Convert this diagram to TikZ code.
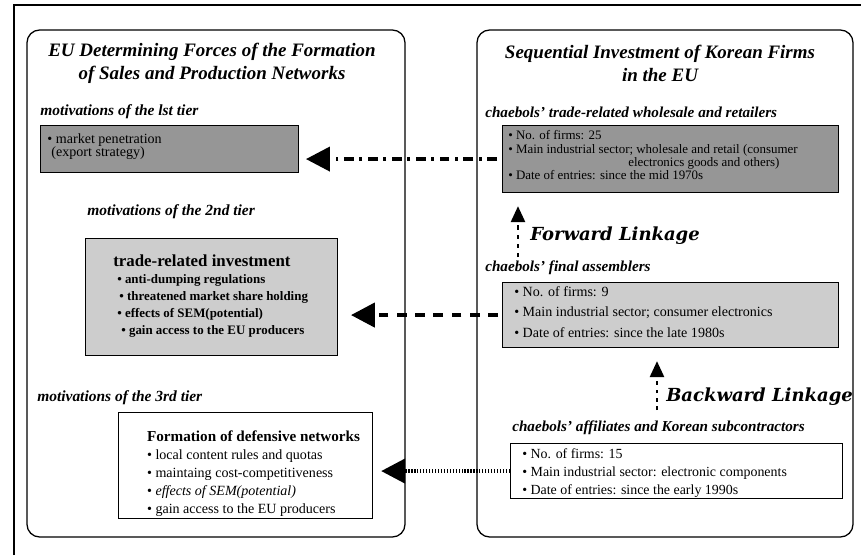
\documentclass[tikz,border=0pt]{standalone}
\usepackage{fontspec}
\setmainfont{Liberation Serif}
\newfontfamily\linkfont{DejaVu Serif}
\usetikzlibrary{arrows.meta, positioning, calc}

\definecolor{darkfill}{RGB}{150, 150, 150}
\definecolor{lightfill}{RGB}{205, 205, 205}

\tikzset{
  panel/.style={line width=0.9pt, rounded corners=9pt},
  darkbox/.style={draw, line width=0.8pt, fill=darkfill, anchor=north west, inner sep=0pt},
  lightbox/.style={draw, line width=0.8pt, fill=lightfill, anchor=north west, inner sep=0pt},
  whitebox/.style={draw, line width=0.8pt, fill=white, anchor=north west, inner sep=0pt},
  boxtext/.style={align=left, inner sep=0pt},
  paneltitle/.style={align=center, inner sep=0pt, font=\fontsize{13.5}{16.4}\selectfont\bfseries\itshape},
  tierlabel/.style={anchor=west, inner sep=0pt, font=\fontsize{11}{12}\selectfont\bfseries\itshape},
  firmlabel/.style={anchor=west, inner sep=0pt, font=\fontsize{10.8}{12}\selectfont\bfseries\itshape},
  linklabel/.style={anchor=west, inner sep=0pt, font=\linkfont\fontsize{12.8}{15}\selectfont\bfseries\itshape},
  bigtip/.style={-{Triangle[length=0.6cm,width=0.6cm]}},
  smalltip/.style={-{Triangle[length=0.4cm,width=0.35cm]}}
}

\begin{document}
\begin{tikzpicture}
  \useasboundingbox (0,0) rectangle (21.525,-13.875);

  % Outer frame (cut off at right and bottom)
  \draw[line width=1.6pt] (0.35,-13.875) -- (0.35,-0.125) -- (21.525,-0.125);

  % Panels
  \draw[panel] (0.675,-0.75) rectangle (10.125,-13.425);
  \draw[panel] (11.925,-0.75) rectangle (21.325,-13.425);
  \node[paneltitle] (lefttitle) at (5.3,-1.59) {EU Determining Forces of the Formation\\of Sales and Production Networks};
  \node[paneltitle] (righttitle) at (16.5,-1.59) {Sequential Investment of Korean Firms\\in the EU};

  % Left side: motivations
  \node[tierlabel] (mot1) at (1.0,-2.8) {motivations of the lst tier};
  \node[darkbox, minimum width=6.45cm, minimum height=1.175cm] (box1) at (1.0,-3.125) {};
  \node[boxtext, font=\fontsize{10}{9.6}\selectfont, below right=0.2cm and 0.18cm of box1.north west] (box1txt)
    {• market penetration\\\hspace*{0.1cm}(export strategy)};

  \node[tierlabel] (mot2) at (2.175,-5.3) {motivations of the 2nd tier};
  \node[lightbox, minimum width=6.3cm, minimum height=2.925cm] (box2) at (2.125,-5.95) {};
  \node[boxtext, font=\fontsize{9.2}{12}\selectfont\bfseries, below right=0.42cm and 0.7cm of box2.north west] (box2txt)
    {{\fontsize{12}{12}\selectfont trade-related investment}\\
     \hspace*{0.1cm}• anti-dumping regulations\\
     \hspace*{0.15cm}• threatened market share holding\\
     \hspace*{0.1cm}• effects of SEM(potential)\\
     \hspace*{0.2cm}• gain access to the EU producers};

  \node[tierlabel] (mot3) at (0.925,-9.95) {motivations of the 3rd tier};
  \node[whitebox, minimum width=6.35cm, minimum height=2.65cm] (box3) at (2.95,-10.3) {};
  \node[boxtext, font=\fontsize{10}{12.8}\selectfont, below right=0.46cm and 0.72cm of box3.north west] (box3txt)
    {{\fontsize{10.8}{12.8}\selectfont\bfseries Formation of defensive networks}\\
     • local content rules and quotas\\
     • maintaing cost-competitiveness\\
     • \textit{effects of SEM(potential)}\\
     • gain access to the EU producers};

  % Right side: Korean firms
  \node[firmlabel] (firmA) at (12.125,-2.8) {chaebols' trade-related wholesale and retailers};
  \node[darkbox, minimum width=8.4cm, minimum height=1.675cm] (boxA) at (12.55,-3.125) {};
  \node[boxtext, font=\fontsize{9.2}{9.4}\selectfont, below right=0.14cm and 0.15cm of boxA.north west] (boxAtxt)
    {• No. of firms: 25\\
     • Main industrial sector; wholesale and retail (consumer\\
     \hspace*{3cm}electronics goods and others)\\
     • Date of entries: since the mid 1970s};

  \node[firmlabel] (firmB) at (12.125,-6.7) {chaebols' final assemblers};
  \node[lightbox, minimum width=8.4cm, minimum height=1.625cm] (boxB) at (12.55,-7.05) {};
  \node[boxtext, font=\fontsize{10}{14.6}\selectfont, below right=0.1cm and 0.3cm of boxB.north west] (boxBtxt)
    {• No. of firms: 9\\
     • Main industrial sector; consumer electronics\\
     • Date of entries: since the late 1980s};

  \node[firmlabel] (firmC) at (12.8,-10.7) {chaebols' affiliates and Korean subcontractors};
  \node[whitebox, minimum width=8.3cm, minimum height=1.375cm] (boxC) at (12.75,-11.075) {};
  \node[boxtext, font=\fontsize{9.9}{12.8}\selectfont, below right=0.14cm and 0.3cm of boxC.north west] (boxCtxt)
    {• No. of firms: 15\\
     • Main industrial sector: electronic components\\
     • Date of entries: since the early 1990s};

  % Linkages
  \coordinate (fwdtail) at (12.95,-6.425);
  \draw[smalltip, line width=1.8pt, dash pattern=on 3pt off 3.5pt, shorten >=0.325cm] (fwdtail) -- (fwdtail |- boxA.south);
  \node[linklabel] (fwdlabel) at (13.25,-5.9) {Forward Linkage};

  \coordinate (bwdtail) at (16.425,-10.25);
  \draw[smalltip, line width=1.8pt, dash pattern=on 2.5pt off 3.5pt, shorten >=0.325cm] (bwdtail) -- (bwdtail |- boxB.south);
  \node[linklabel] (bwdlabel) at (16.65,-9.925) {Backward Linkage};

  % Arrows to the motivations
  \draw[bigtip, line width=2.8pt, dash pattern=on 7pt off 4pt on 2pt off 4pt, shorten <=0.12cm, shorten >=0.17cm]
    (boxA.west) -- (boxA.west -| box1.east);
  \draw[bigtip, line width=3.2pt, dash pattern=on 7pt off 6pt, shorten <=0.1cm, shorten >=0.32cm]
    (boxB.west) -- (boxB.west -| box2.east);
  \draw[bigtip, line width=3pt, dash pattern=on 0.9pt off 1.2pt, shorten >=0.2cm]
    (boxC.west) -- (boxC.west -| box3.east);
\end{tikzpicture}
\end{document}
